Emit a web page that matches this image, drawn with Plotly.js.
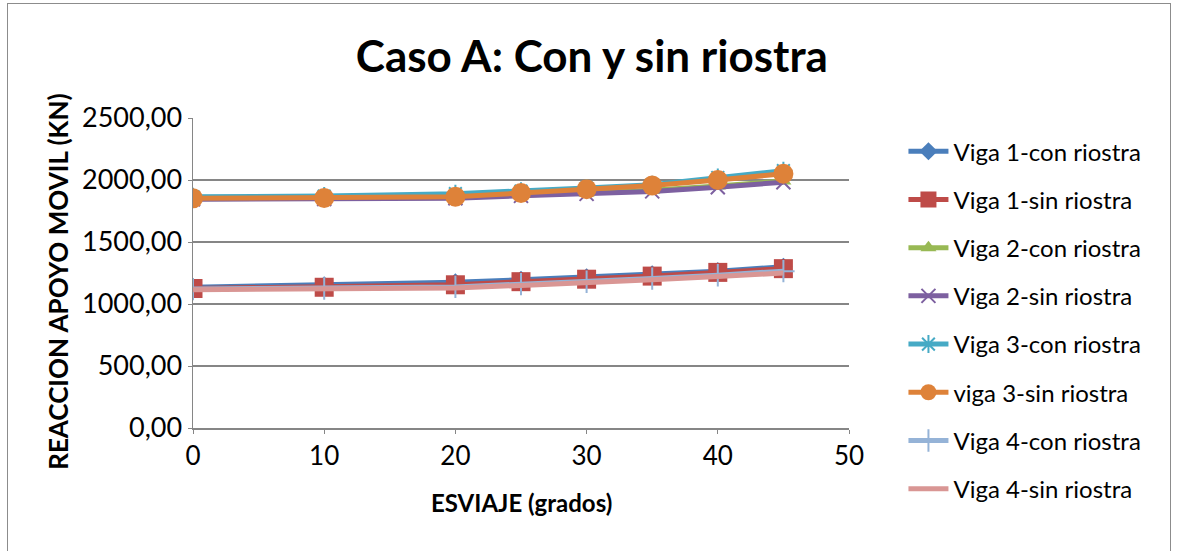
<!DOCTYPE html>
<html>
<head>
<meta charset="utf-8">
<script src="https://cdn.plot.ly/plotly-3.0.1.min.js"></script>
<style>
html,body{margin:0;padding:0;background:#fff;}
#wrap{position:relative;width:1177px;height:551px;overflow:hidden;}
#chart{position:absolute;left:0;top:0;width:1177px;height:551px;}
#frame{position:absolute;left:7px;top:3px;width:1162px;height:560px;border:1px solid #8c8c8c;pointer-events:none;}
</style>
</head>
<body>
<div id="wrap"><div id="chart"></div><div id="frame"></div></div>
<script>
const esviaje = [0, 10, 20, 25, 30, 35, 40, 45];
const seriesNames = ["Viga 1-con riostra","Viga 1-sin riostra","Viga 2-con riostra","Viga 2-sin riostra","Viga 3-con riostra","viga 3-sin riostra","Viga 4-con riostra","Viga 4-sin riostra"];
const viga1Con = [1135, 1150, 1175, 1195, 1215, 1240, 1265, 1300];
const viga1Sin = [1125, 1135, 1155, 1180, 1200, 1225, 1255, 1285];
const viga2Con = [1848, 1850, 1858, 1878, 1895, 1918, 1952, 1992];
const viga2Sin = [1845, 1847, 1853, 1872, 1888, 1908, 1942, 1982];
const viga3Con = [1865, 1870, 1890, 1910, 1935, 1962, 2020, 2075];
const viga3Sin = [1852, 1855, 1865, 1895, 1925, 1955, 2000, 2050];
const viga4Con = [1120, 1125, 1138, 1160, 1180, 1205, 1232, 1265];
const viga4Sin = [1115, 1120, 1130, 1150, 1170, 1195, 1222, 1250];
const yTicks = [0, 500, 1000, 1500, 2000, 2500];
const xTicks = [0, 10, 20, 30, 40, 50];

const values = [viga1Con, viga1Sin, viga2Con, viga2Sin, viga3Con, viga3Sin, viga4Con, viga4Sin];
const colors = ["#4A7EBB","#BE4B48","#98B954","#7D60A0","#46AAC5","#DE8239","#95B3D7","#D99694"];
const symbols = ["diamond","square","triangle-up","x-thin-open","asterisk-open","circle","cross-thin-open","circle"];
const sizes = [14, 19, 14, 14, 15, 20, 16, 0];

const traces = values.map((v, i) => ({
  x: esviaje, y: v, name: seriesNames[i], type: "scatter",
  mode: sizes[i] > 0 ? "lines+markers" : "lines",
  legendgroup: "g" + i,
  line: {color: colors[i], width: 5},
  marker: {symbol: symbols[i], size: sizes[i], color: colors[i],
           line: {color: colors[i], width: (symbols[i].indexOf("open") >= 0) ? 2 : 0}}
}));

const font = "Lato, 'Open Sans', 'Liberation Sans', sans-serif";
const layout = {
  width: 1177, height: 551,
  margin: {l: 193, r: 328, t: 118, b: 123},
  paper_bgcolor: "#fff", plot_bgcolor: "#fff",
  font: {family: font, color: "#000", size: 24},
  separators: ",.",
  showlegend: true,
  title: {text: "<b>Caso A: Con y sin riostra</b>", font: {size: 44, family: font, color: "#000"},
          xref: "paper", x: 0.608, xanchor: "center", yref: "container", y: 0.897, yanchor: "middle"},
  xaxis: {range: [0, 50], tickvals: xTicks, ticktext: xTicks.map(String), showgrid: false, zeroline: false,
          showline: true, linecolor: "#868686", linewidth: 1.5, ticks: "outside", ticklen: 4, tickcolor: "#868686",
          tickfont: {size: 26}, fixedrange: true},
  yaxis: {range: [0, 2500], tickvals: yTicks, tickformat: ".2f", showgrid: true, gridcolor: "#868686", gridwidth: 1.5,
          zeroline: false, showline: true, linecolor: "#868686", linewidth: 1.5, ticks: "outside", ticklen: 4,
          tickcolor: "#868686", tickfont: {size: 27}, fixedrange: true},
  legend: {x: 1.083, xanchor: "left", y: 0.964, yanchor: "top", font: {size: 24, family: font},
           traceorder: "grouped", tracegroupgap: 14, maxheight: 520, bgcolor: "rgba(0,0,0,0)", itemwidth: 40},
  annotations: [
    {text: "<b>REACCION APOYO MOVIL (KN)</b>", textangle: -90, xref: "paper", yref: "paper",
     x: -0.205, y: 0.47, xanchor: "center", yanchor: "middle", showarrow: false, font: {size: 26, family: font}},
    {text: "<b>ESVIAJE (grados)</b>", xref: "paper", yref: "paper", x: 0.5, y: -0.24,
     xanchor: "center", yanchor: "middle", showarrow: false, font: {size: 24, family: font}}
  ]
};
Plotly.newPlot("chart", traces, layout, {displayModeBar: false, staticPlot: true});
</script>
</body>
</html>
